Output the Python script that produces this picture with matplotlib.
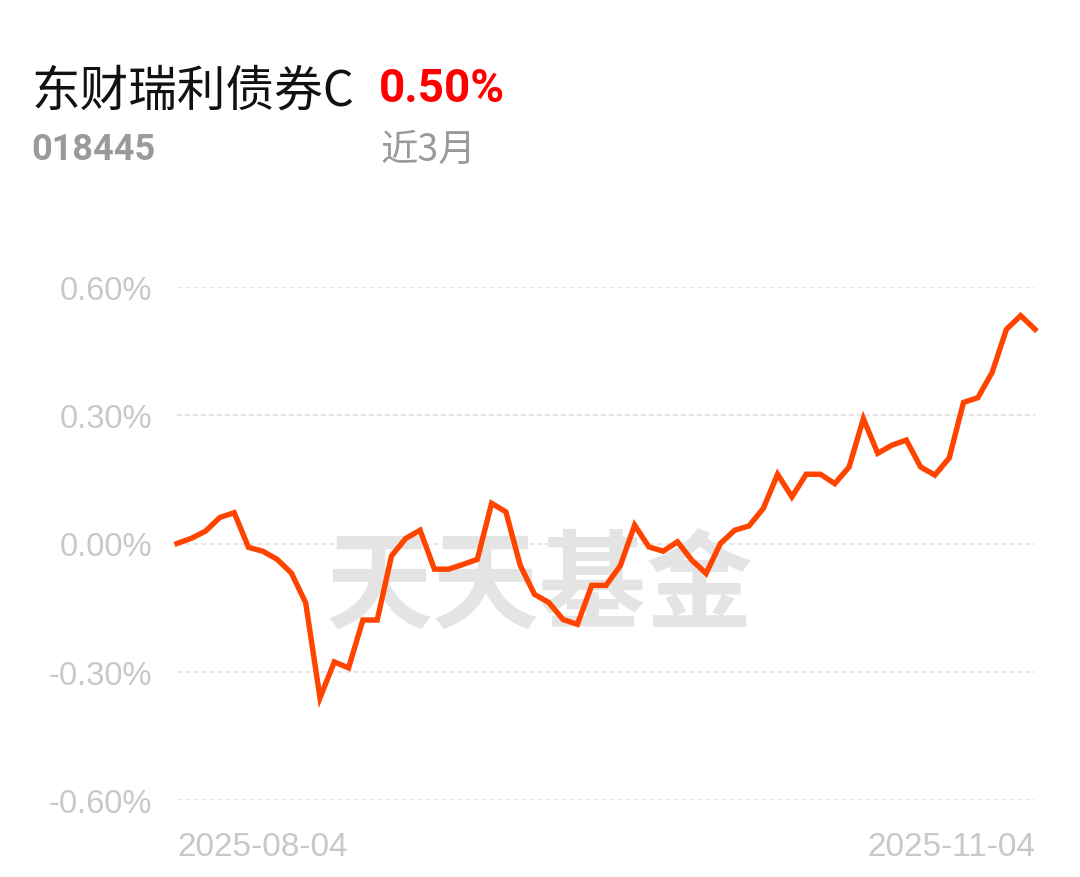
import matplotlib
matplotlib.use("Agg")
import matplotlib.pyplot as plt

# fund return over the last 3 months, % (one value per trading day)
returns = [0.000, 0.012, 0.029, 0.061, 0.072, -0.009, -0.018, -0.037, -0.069, -0.139,
           -0.361, -0.277, -0.291, -0.179, -0.179, -0.029, 0.012, 0.031, -0.060, -0.060,
           -0.049, -0.037, 0.094, 0.074, -0.051, -0.119, -0.138, -0.178, -0.189, -0.098,
           -0.098, -0.052, 0.043, -0.008, -0.018, 0.004, -0.039, -0.070, 0.000, 0.031,
           0.041, 0.082, 0.162, 0.109, 0.162, 0.162, 0.140, 0.179, 0.292, 0.211,
           0.230, 0.242, 0.179, 0.160, 0.200, 0.330, 0.341, 0.400, 0.501, 0.533,
           0.501]
date_labels = ["2025-08-04", "2025-11-04"]
y_ticks = [-0.6, -0.3, 0.0, 0.3, 0.6]
fund_name = "东财瑞利债券C"
fund_code = "018445"
period_return = "0.50%"
period_name = "近3月"

cjk = ["Noto Sans CJK SC", "DejaVu Sans"]

W, H = 1080, 878
fig = plt.figure(figsize=(W / 100, H / 100), dpi=100)
left, right, top, bottom = 177, 1035, 288, 801
ax = fig.add_axes([left / W, 1 - bottom / H, (right - left) / W, (bottom - top) / H])

x = list(range(len(returns)))
ax.plot(x, returns, color="#ff4400", lw=3.9, solid_joinstyle="miter", clip_on=False, zorder=3)

ax.set_xlim(0, len(returns) - 1)
ax.set_ylim(-0.6, 0.6)
ax.set_yticks(y_ticks)
ax.set_yticklabels(["{:.2f}%".format(v) for v in y_ticks])
for v in y_ticks:
    ax.axhline(v, color="#e6e6e6", lw=1.44, ls=(0, (2.5, 1.5)), zorder=1)
ax.tick_params(axis="y", length=0, pad=18, labelsize=23.5, labelcolor="#c8c8c8")
for lab in ax.get_yticklabels():
    lab.set_fontfamily("Liberation Sans")

ax.set_xticks([0, len(returns) - 1])
ax.set_xticklabels(date_labels)
ax.tick_params(axis="x", length=0, pad=22, labelsize=24, labelcolor="#c8c8c8")
xl = ax.get_xticklabels()
xl[0].set_ha("left")
xl[1].set_ha("right")
for lab in xl:
    lab.set_fontfamily("Liberation Sans")

for s in ax.spines.values():
    s.set_visible(False)

# watermark
ax.text(0.423, 0.415, "天天基金", transform=ax.transAxes, ha="center", va="center",
        fontsize=77, fontweight="bold", color="#e4e4e4", family=cjk, zorder=0)

# header texts
fig.text(32 / W, 1 - 106 / H, fund_name, fontsize=35, color="#111111", family=cjk, va="baseline")
fig.text(379 / W, 1 - 102 / H, period_return, fontsize=33, color="#ff0000",
         family="Roboto", fontweight="bold", va="baseline")
fig.text(31 / W, 1 - 160 / H, fund_code, fontsize=26, color="#9a9a9a",
         family="Roboto", fontweight="bold", va="baseline")
fig.text(380 / W, 1 - 161 / H, period_name, fontsize=27, color="#9a9a9a", family=cjk, va="baseline")

fig.savefig("out.png", dpi=100)
